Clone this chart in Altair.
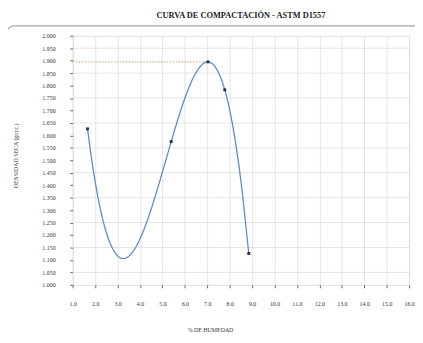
import altair as alt
import pandas as pd

# Data
humedad = [1.66, 5.39, 7.03, 7.78, 8.85]
densidad = [1.626, 1.575, 1.895, 1.783, 1.126]

x_ticks = [float(v) for v in range(1, 17)]
y_ticks = [round(1.0 + 0.05 * i, 2) for i in range(21)]
y_grid = [round(1.05 + 0.1 * i, 2) for i in range(10)]

df = pd.DataFrame({"h": humedad, "d": densidad})
peak_i = densidad.index(max(densidad))
peak_df = pd.DataFrame({"h0": [1.0], "h1": [humedad[peak_i]], "d": [densidad[peak_i]]})
grid_df = pd.DataFrame({"g": y_grid})

FONT = "Liberation Serif"

xs = alt.Scale(domain=[1, 16], nice=False, zero=False)
ys = alt.Scale(domain=[1, 2], nice=False, zero=False)

xaxis = alt.Axis(values=x_ticks, format=".1f", grid=True, gridColor="#dedede",
                 gridWidth=0.8, tickSize=3, tickColor="#666", domain=False,
                 labelPadding=13, labelFont=FONT, labelFontSize=6,
                 labelOverlap=False, labelFlush=False,
                 labelColor="#333", title="% DE HUMEDAD", titleFont=FONT,
                 titleFontSize=6, titleFontWeight="normal", titleColor="#333",
                 titleX=140, titleY=43, titleAnchor="middle", titleAlign="center")
yaxis = alt.Axis(values=y_ticks, format=".3f", grid=False, tickSize=3,
                 tickColor="#666", domain=False, labelPadding=15,
                 labelOverlap=False, labelFlush=False,
                 labelFont=FONT, labelFontSize=6, labelColor="#333",
                 title="DENSIDAD SECA (gr/cc.)", titleFont=FONT, titleFontSize=6,
                 titleFontWeight="normal", titleColor="#333",
                 titleX=-58, titleY=122, titleAngle=-90,
                 titleAlign="center", titleBaseline="middle")

border = alt.Chart(pd.DataFrame({"a": [0]})).mark_rect(
    fill=None, stroke="#8a8a8a", strokeWidth=1, cornerRadius=7
).encode(
    x=alt.value(-67), x2=alt.value(400), y=alt.value(-10), y2=alt.value(340)
)

grid = alt.Chart(grid_df).mark_rule(color="#dedede", strokeWidth=0.8).encode(
    y=alt.Y("g:Q", scale=ys, axis=yaxis)
)

peak = alt.Chart(peak_df).mark_rule(color="#c9a26a", strokeDash=[1.5, 1.5], strokeWidth=1).encode(
    x=alt.X("h0:Q", scale=xs, axis=xaxis),
    x2="h1:Q",
    y=alt.Y("d:Q", scale=ys, axis=yaxis),
)

curve = alt.Chart(df).transform_regression(
    "h", "d", method="poly", order=4
).mark_line(color="#5b8cc4", strokeWidth=1.3).encode(
    x=alt.X("h:Q", scale=xs, axis=xaxis),
    y=alt.Y("d:Q", scale=ys, axis=yaxis),
)

points = alt.Chart(df).mark_point(filled=True, color="#2b3444", size=9, opacity=1, shape="square").encode(
    x=alt.X("h:Q", scale=xs, axis=xaxis),
    y=alt.Y("d:Q", scale=ys, axis=yaxis),
)

chart = alt.layer(border, grid, curve, peak, points).properties(
    width=343,
    height=254,
    title=alt.TitleParams("CURVA DE COMPACTACIÓN - ASTM D1557", font=FONT, fontSize=8.5,
                          fontWeight="bold", color="#222", anchor="middle", offset=-3,
                          baseline="bottom"),
    autosize=alt.AutoSizeParams(type="none"),
    padding={"left": 66, "top": 25, "right": 6, "bottom": 56},
).configure_view(stroke="#555", strokeWidth=1).configure_axis(
    labelOverlap=False
).configure(background="white")

chart.save("out.html", embed_options={"renderer": "svg", "actions": False})
